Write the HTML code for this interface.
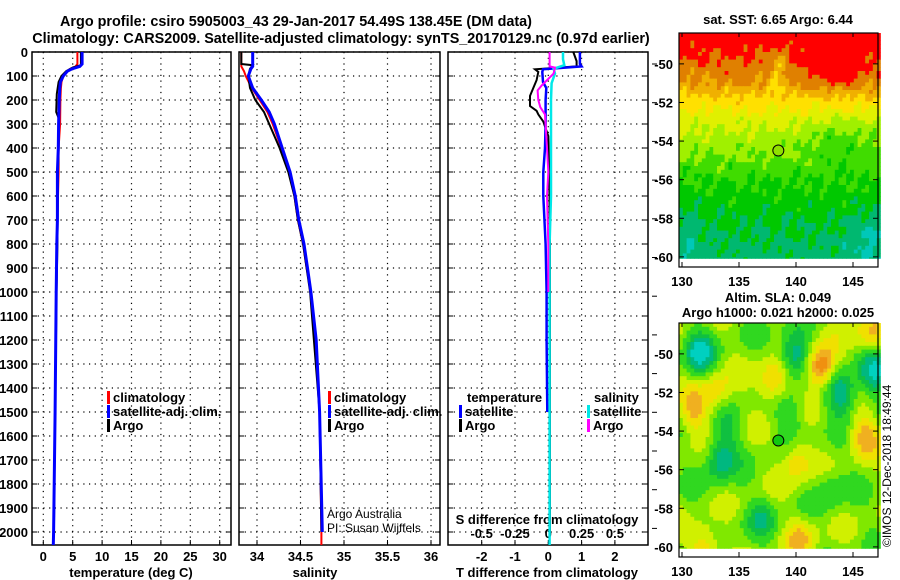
<!DOCTYPE html>
<html><head><meta charset="utf-8"><style>
html,body{margin:0;padding:0;background:#fff;}
svg{display:block;font-family:"Liberation Sans",Arial,sans-serif;}
.b{font-weight:bold;font-size:14.4px;fill:#000;}
.t{font-weight:bold;font-size:13px;fill:#000;}
.n{font-size:12px;fill:#000;}
</style></head><body>
<svg id="c" width="900" height="580" viewBox="0 0 900 580" xmlns="http://www.w3.org/2000/svg">
<rect width="900" height="580" fill="#fff"/>
<text class="b" x="296" y="26" text-anchor="middle">Argo profile: csiro 5905003_43 29-Jan-2017 54.49S 138.45E (DM data)</text>
<text class="b" x="341" y="43" text-anchor="middle">Climatology: CARS2009. Satellite-adjusted climatology: synTS_20170129.nc (0.97d earlier)</text>
<g id="g"></g>
</svg>
<script>
// ---------- data ----------
const depthTicks=[0,100,200,300,400,500,600,700,800,900,1000,1100,1200,1300,1400,1500,1600,1700,1800,1900,2000];
const tempTicks=[0,5,10,15,20,25,30];
const salTicks=[34,34.5,35,35.5,36];
const salTickLabels=["34","34.5","35","35.5","36"];
const tdiffTicks=[-2,-1,0,1,2];
const sdiffTicks=[-0.5,-0.25,0,0.25,0.5];
const sdiffTickLabels=["-0.5","-0.25","0","0.25","0.5"];

const tClimDepth=[0,50,60,70,80,100,125,150,200,300,400,500,700,800,1000,1500,2000,2080];
const tClimVal=[5.8,5.8,5.5,4.6,4.0,3.4,3.1,3.0,2.9,2.85,2.6,2.6,2.4,2.3,2.2,2.0,1.75,1.7];
const tSatDepth=[0,50,60,70,80,100,125,150,200,300,400,500,700,800,1000,1500,2000,2080];
const tSatVal=[6.6,6.6,6.2,4.9,4.1,3.4,2.9,2.8,2.7,2.6,2.55,2.4,2.4,2.3,2.2,2.0,1.75,1.7];
const tArgoDepth=[0,55,65,80,100,125,175,250,275,400,500,800,1000,1500,2000];
const tArgoVal=[6.4,6.4,5.0,3.9,3.1,2.6,2.3,2.2,2.6,2.6,2.5,2.4,2.25,2.0,1.8];

const sClimDepth=[0,60,80,100,150,200,250,300,400,500,600,700,800,900,1000,1200,1500,2000,2080];
const sClimVal=[33.82,33.82,33.85,33.87,33.94,34.03,34.12,34.18,34.28,34.37,34.43,34.47,34.53,34.57,34.62,34.67,34.72,34.74,34.74];
const sSatDepth=[0,60,70,100,150,200,250,300,400,500,600,700,800,900,1000,1200,1500,2000];
const sSatVal=[33.95,33.95,33.93,33.9,33.95,34.05,34.14,34.2,34.29,34.38,34.44,34.48,34.54,34.58,34.62,34.68,34.72,34.75];
const sArgoDepth=[0,50,55,70,100,150,200,250,300,400,500,600,700,800,1000,1500,2000];
const sArgoVal=[33.82,33.82,33.95,33.92,33.9,33.92,33.98,34.08,34.14,34.26,34.36,34.43,34.47,34.53,34.61,34.72,34.74];

const dtSatDepth=[0,50,60,72,83,125,150,200,300,400,500,600,800,1000,1200,1500];
const dtSatVal=[0.95,0.95,1.0,-0.16,-0.18,-0.16,-0.06,-0.08,-0.08,-0.1,-0.15,-0.15,-0.08,-0.05,-0.05,-0.03];
const dtArgoDepth=[0,38,60,72,83,117,150,183,225,245,260,290,350,500,800,1200,1600,2000];
const dtArgoVal=[0.75,0.85,0.85,-0.4,-0.3,-0.35,-0.45,-0.55,-0.55,-0.35,-0.3,-0.15,0.0,0.03,0.05,0.05,0.05,0.05];
const dsSatDepth=[0,30,55,70,90,130,200,400,600,800,1000,1500,2000,2080];
const dsSatVal=[0.11,0.11,0.12,0.04,0.05,0.025,0.02,0.02,0.02,0.01,0.01,0.01,0.01,0.01];
const dsArgoDepth=[0,60,65,90,140,160,200,230,260,300,400,500,600,800,1000];
const dsArgoVal=[0.01,0.01,0.05,0.04,-0.05,-0.08,-0.075,-0.06,-0.025,-0.02,-0.01,0.0,-0.01,0.0,0.0];

const mapLonTicks=[130,135,140,145];
const mapLatTicks=[-50,-52,-54,-56,-58,-60];
const argoLon=138.45, argoLat=-54.49;

// ---------- helpers ----------
const NS="http://www.w3.org/2000/svg";
const G=document.getElementById('g');
function el(tag,attrs,parent){const e=document.createElementNS(NS,tag);for(const k in attrs)e.setAttribute(k,attrs[k]);(parent||G).appendChild(e);return e;}
const yD=d=>52+0.24*d;
const topY=52,botY=545;

function mkPanel(name){
  const g=el('g',{});
  
  
  return g;
}
function gridAndFrame(g,x0,x1,xticks,xf){
  depthTicks.forEach(d=>{const y=yD(d);
    const l=el('line',{x1:x0,x2:x1,y1:y,y2:y,stroke:'#000','stroke-width':1.2,'stroke-dasharray':'1.2,4.5'},g);
    
    
    el('line',{x1:x0,x2:x0+5,y1:y,y2:y,stroke:'#000'},g);el('line',{x1:x1-5,x2:x1,y1:y,y2:y,stroke:'#000'},g);});
  xticks.forEach(v=>{const x=xf(v);
    const l=el('line',{x1:x,x2:x,y1:topY,y2:botY,stroke:'#000','stroke-width':1.2,'stroke-dasharray':'1.2,4.5'},g);
    
    
    el('line',{x1:x,x2:x,y1:botY-5,y2:botY,stroke:'#000'},g);});
  const r=el('rect',{x:x0,y:topY,width:x1-x0,height:botY-topY,fill:'none',stroke:'#000','stroke-width':1.5},g);
  
  
}
function line(g,ds,vs,xf,color,w,name){
  const pts=ds.map((d,i)=>xf(vs[i]).toFixed(1)+','+yD(Math.min(d,2054)).toFixed(1)).join(' ');
  const p=el('polyline',{points:pts,fill:'none',stroke:color,'stroke-width':w,'stroke-linejoin':'miter'},g);
  
  
}
function txt(g,x,y,s,cls,anchor,name){const t=el('text',{x:x,y:y,class:cls,'text-anchor':anchor||'start'},g);t.textContent=s;
  
  
  return t;}
function legend(g,x,y,color,label,name){
  const r=el('rect',{x:x,y:y-11,width:3,height:13,fill:color},g);
  
  
  txt(g,x+6,y,label,'t','start',name);
}

// ---------- panel 1: temperature ----------
const xT=v=>43.3+5.88*v;
const p1=mkPanel('temperature-panel');
gridAndFrame(p1,32,231,tempTicks,xT);
depthTicks.forEach(d=>txt(p1,28,yD(d)+5,String(d),'t','end','depth-tick-label'));
tempTicks.forEach(v=>txt(p1,xT(v),561,String(v),'t','middle','temp-tick-label'));
txt(p1,131,577,'temperature (deg C)','t','middle','x-axis-title-temperature');
line(p1,tClimDepth,tClimVal,xT,'#ff0000',2,'temp-climatology-line');
line(p1,tArgoDepth,tArgoVal,xT,'#000',2,'temp-argo-line');
line(p1,tSatDepth,tSatVal,xT,'#0000ff',3,'temp-satellite-line');
legend(p1,107,402,'#ff0000','climatology','legend-climatology');
legend(p1,107,416,'#0000ff','satellite-adj. clim.','legend-satellite');
legend(p1,107,430,'#000','Argo','legend-argo');

// ---------- panel 2: salinity ----------
const xS=v=>257+87*(v-34);
const p2=mkPanel('salinity-panel');
gridAndFrame(p2,239,440,salTicks,xS);
salTicks.forEach((v,i)=>txt(p2,xS(v),561,salTickLabels[i],'t','middle','sal-tick-label'));
txt(p2,315,577,'salinity','t','middle','x-axis-title-salinity');
line(p2,sClimDepth,sClimVal,xS,'#ff0000',2,'sal-climatology-line');
line(p2,sArgoDepth,sArgoVal,xS,'#000',2,'sal-argo-line');
line(p2,sSatDepth,sSatVal,xS,'#0000ff',3,'sal-satellite-line');
legend(p2,328,402,'#ff0000','climatology','legend-climatology-sal');
legend(p2,328,416,'#0000ff','satellite-adj. clim.','legend-satellite-sal');
legend(p2,328,430,'#000','Argo','legend-argo-sal');
txt(p2,327,518,'Argo Australia','n','start','credit-argo-australia');
txt(p2,327,532,'PI: Susan Wijffels','n','start','credit-pi');

// ---------- panel 3: differences ----------
const xDT=v=>548.3+33.3*v;
const xDS=v=>548.3+133.3*v;
const p3=mkPanel('difference-panel');
gridAndFrame(p3,448,648,tdiffTicks,xDT);
tdiffTicks.forEach(v=>txt(p3,xDT(v),561,String(v),'t','middle','tdiff-tick-label'));
sdiffTicks.forEach((v,i)=>txt(p3,xDS(v),538,sdiffTickLabels[i],'t','middle','sdiff-tick-label'));
txt(p3,547,524,'S difference from climatology','t','middle','s-diff-axis-title');
txt(p3,547,577,'T difference from climatology','t','middle','t-diff-axis-title');
line(p3,dtArgoDepth,dtArgoVal,xDT,'#000',2,'tdiff-argo-line');
line(p3,dtSatDepth,dtSatVal,xDT,'#0000ff',2.5,'tdiff-satellite-line');
line(p3,dsSatDepth,dsSatVal,xDS,'#00e8e8',2.5,'sdiff-satellite-line');
line(p3,dsArgoDepth,dsArgoVal,xDS,'#ff00ff',2,'sdiff-argo-line');
txt(p3,467,402,'temperature','t','start','legend-temperature-header');
legend(p3,459,416,'#0000ff','satellite','legend-tdiff-satellite');
legend(p3,459,430,'#000','Argo','legend-tdiff-argo');
txt(p3,594,402,'salinity','t','start','legend-salinity-header');
legend(p3,587,416,'#00e8e8','satellite','legend-sdiff-satellite');
legend(p3,587,430,'#ff00ff','Argo','legend-sdiff-argo');
for(let i=0;i<13;i++){const y=64+38.7*i;el('line',{x1:652,x2:657,y1:y,y2:y,stroke:'#000'},p3);}

// ---------- maps ----------
const mx=lon=>682+11.4*(lon-130);
const sstPal=['#00c8b8','#00b870','#00c800','#40dc00','#a0f000','#e0f000','#ffe000','#f0b000','#e08000','#ff0000'];
function sstColor(v){let i=Math.floor(v);if(i<0)i=0;if(i>9)i=9;return sstPal[i];}
function slaColor(v){
  const c=['#00d0c0','#00b880','#10c040','#30d820','#80e800','#d0f000','#f0e000','#f0b020','#f09010'];
  const th=[-0.9,-0.55,-0.25,0.1,0.4,0.7,1.0,1.3];
  let i=0;while(i<th.length&&v>th[i])i++;return c[i];
}
const latK=[-61,-59.5,-58,-56,-54.5,-53,-52,-51,-49.5,-48];
const clsK=[1.3,1.8,2.2,3.0,4.3,5.3,6.5,8.0,9.2,10];
function baseCls(lat){for(let i=0;i<latK.length-1;i++){if(lat<=latK[i+1]){const f=(lat-latK[i])/(latK[i+1]-latK[i]);return clsK[i]+f*(clsK[i+1]-clsK[i]);}}return 10;}
function gauss(lon,lat,a,b,sa,sb){return Math.exp(-Math.pow((lon-a)/sa,2)-Math.pow((lat-b)/sb,2));}
function drawMap(y0,latTop,latScale,kind,name){
  const g=el('g',{});
  
  
  const my=lat=>y0+latScale*(latTop-lat);
  const yEnd=my(-60.1);
  const cw=3.8,ch=3.8;
  const blobs=[[131.5,-50,-1.2],[139.9,-50,-1.3],[144,-52,-1.3],[146.8,-51,-1.2],[133.3,-55.5,-1.0],[139.5,-53.2,-0.6],[134,-54,-0.5],
    [142.2,-50.7,1.6],[138,-51.5,1.0],[146,-54.2,0.9],[140,-55.5,0.8],[131,-53,0.8],[132,-60,0.9],[146.5,-49,0.8],[133,-52,0.7],[137,-58.5,-0.6],[143,-57,-0.5],[140.5,-59.5,0.7]];
  for(let y=y0;y<yEnd;y+=ch){
    for(let x=679;x<878;x+=cw){
      const lon=130+(x+cw/2-682)/11.4, lat=latTop-(y+ch/2-y0)/latScale;
      let col;
      if(kind==='sst'){
        let v=baseCls(lat)
          +1.6*gauss(lon,lat,143.5,-50.3,2.6,1.1)
          -1.3*gauss(lon,lat,138.3,-50.3,0.9,1.2)
          -1.2*gauss(lon,lat,144,-54,3.5,1.2)
          -1.0*gauss(lon,lat,146.5,-59,2,1.5)
          -0.8*gauss(lon,lat,130.5,-58.8,1.2,1.5)
          +0.45*Math.sin(lon*2.3+lat*1.7)*Math.cos(lat*3.1-lon*0.9)
          +0.3*Math.sin(lon*5.1-lat*4.3);
        col=sstColor(v);
      } else {
        let v=0.2*Math.sin(lon*1.3+lat*0.7)+0.2*Math.cos(lat*1.9-lon*0.4)+0.25;
        blobs.forEach(b=>{v+=b[2]*gauss(lon,lat,b[0],b[1],1.3,1.1);});
        col=slaColor(v);
      }
      el('rect',{x:x.toFixed(1),y:y.toFixed(1),width:cw+0.4,height:Math.min(ch+0.4,yEnd-y).toFixed(1),fill:col},g);
    }
  }
  const cx=mx(argoLon),cy=my(argoLat);
  const m=el('circle',{cx:cx,cy:cy,r:5.5,fill:kind==='sst'?'#90e000':'#10c810',stroke:'#000','stroke-width':1},g);
  
  
  const fr=el('rect',{x:679,y:y0,width:199,height:234,fill:'none',stroke:'#000','stroke-width':1.2},g);
  
  
  mapLatTicks.forEach(l=>{const y=my(l);el('line',{x1:679,x2:684,y1:y,y2:y,stroke:'#000'},g);el('line',{x1:873,x2:878,y1:y,y2:y,stroke:'#000'},g);
    txt(g,673,y+5,String(l),'t','end','map-lat-label');});
  mapLonTicks.forEach(l=>{const x=mx(l);el('line',{x1:x,x2:x,y1:y0,y2:y0+4,stroke:'#000'},g);el('line',{x1:x,x2:x,y1:y0+229,y2:y0+234,stroke:'#000'},g);
    txt(g,x,y0+253,String(l),'t','middle','map-lon-label');});
}
drawMap(33,-48.4,19.3,'sst','sst-map');
drawMap(323,-48.4,19.3,'sla','sla-map');
txt(G,778,24,'sat. SST: 6.65 Argo: 6.44','t','middle','sst-map-title');
txt(G,778,302,'Altim. SLA: 0.049','t','middle','sla-map-title');
txt(G,778,317,'Argo h1000: 0.021 h2000: 0.025','t','middle','sla-map-subtitle');
const im=txt(G,0,0,'©IMOS 12-Dec-2018 18:49:44','n','start','imos-timestamp');
im.setAttribute('transform','translate(891,547) rotate(-90)');
</script>
</body></html>
